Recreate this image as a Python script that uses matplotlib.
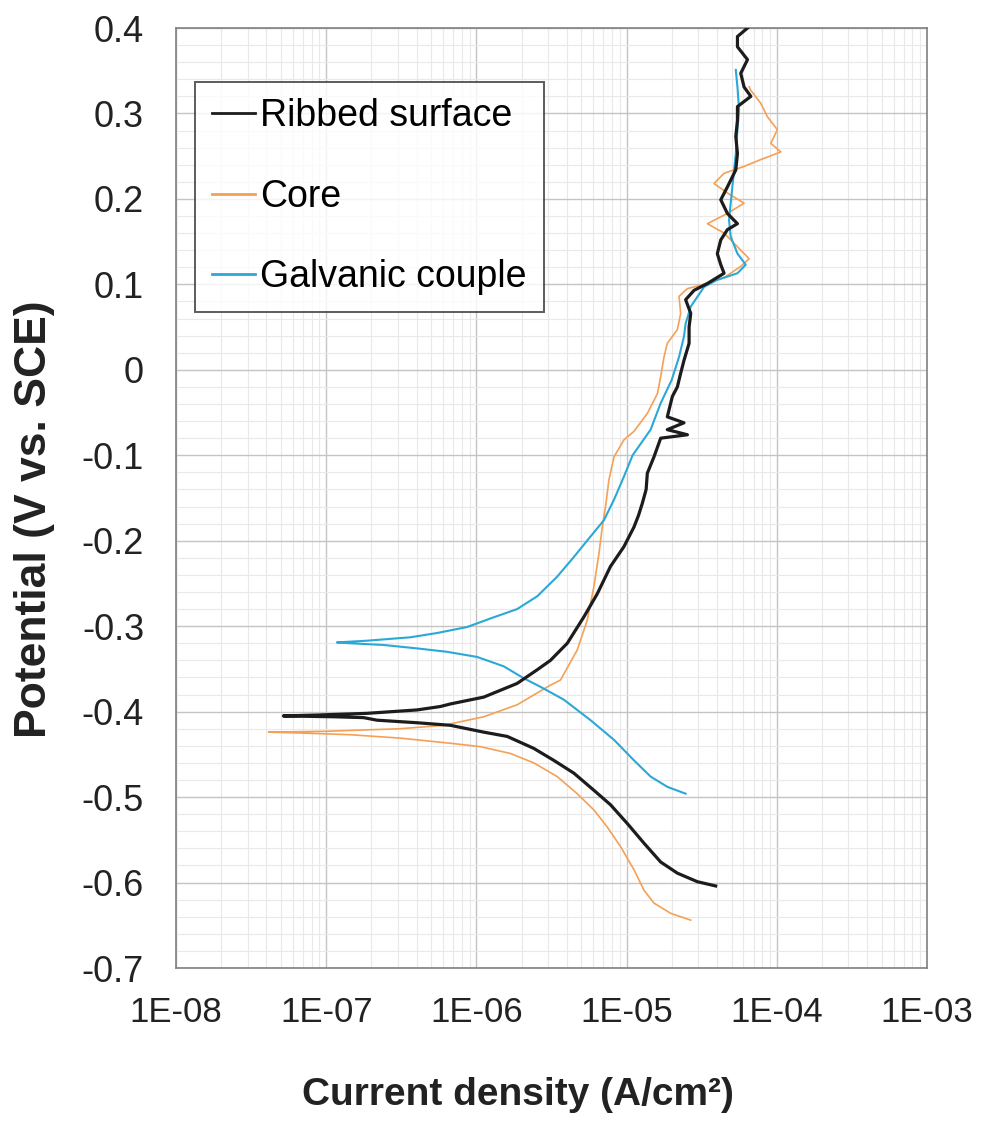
import matplotlib
matplotlib.use("Agg")
import matplotlib.pyplot as plt
import numpy as np
from matplotlib.ticker import FixedLocator, LogLocator, NullFormatter, FuncFormatter

plt.rcParams["font.family"] = ["Liberation Sans", "DejaVu Sans"]

# log10(current density) and potential (V vs SCE)
rib_logi = [-4.407, -4.529, -4.662, -4.773, -4.884, -4.995, -5.107, -5.218, -5.351, -5.485,
            -5.618, -5.795, -5.951, -6.173, -6.395, -6.662, -6.751, -6.951, -7.285,
            -7.062, -6.729, -6.395, -6.240, -6.173, -5.951, -5.729, -5.595, -5.507, -5.395,
            -5.284, -5.195, -5.107, -5.018, -4.951, -4.92, -4.895, -4.87, -4.862, -4.818, -4.773,
            -4.595, -4.729, -4.618, -4.729, -4.695, -4.662, -4.640, -4.618, -4.584, -4.584,
            -4.573, -4.607, -4.551, -4.462, -4.351, -4.373, -4.396, -4.373, -4.329, -4.262,
            -4.329, -4.373, -4.329, -4.273, -4.262, -4.273, -4.262, -4.262, -4.173, -4.218,
            -4.240, -4.195, -4.262, -4.262, -4.195]
rib_e = [-0.604, -0.599, -0.589, -0.576, -0.554, -0.531, -0.509, -0.492, -0.472, -0.457,
         -0.443, -0.429, -0.424, -0.416, -0.413, -0.410, -0.407, -0.406, -0.405,
         -0.404, -0.402, -0.398, -0.394, -0.391, -0.383, -0.367, -0.351, -0.340, -0.320,
         -0.289, -0.262, -0.230, -0.207, -0.184, -0.170, -0.156, -0.140, -0.121, -0.102, -0.080,
         -0.076, -0.070, -0.062, -0.055, -0.031, -0.020, -0.004, 0.011, 0.031, 0.050,
         0.066, 0.082, 0.093, 0.101, 0.113, 0.123, 0.136, 0.152, 0.164, 0.171,
         0.183, 0.199, 0.214, 0.234, 0.253, 0.273, 0.292, 0.308, 0.320, 0.331,
         0.347, 0.363, 0.378, 0.390, 0.400]

core_logi = [-4.573, -4.707, -4.818, -4.884, -4.951, -5.040, -5.129, -5.218, -5.329, -5.462,
             -5.618, -5.773, -5.973, -6.173, -6.507, -6.840, -7.173, -7.384,
             -7.000, -6.840, -6.507, -6.218, -5.951, -5.729, -5.507, -5.440, -5.329, -5.262,
             -5.218, -5.184, -5.162, -5.140, -5.118, -5.084, -5.018, -4.951, -4.862, -4.795,
             -4.773, -4.751, -4.729, -4.662, -4.640, -4.651, -4.595, -4.507, -4.350, -4.240,
             -4.184, -4.240, -4.351, -4.462, -4.329, -4.218, -4.329, -4.418, -4.351, -4.218,
             -4.107, -3.973, -4.040, -3.996, -4.062, -4.107, -4.173, -4.184]
core_e = [-0.644, -0.636, -0.624, -0.609, -0.585, -0.558, -0.535, -0.515, -0.496, -0.476,
          -0.460, -0.449, -0.441, -0.437, -0.431, -0.427, -0.425, -0.424,
          -0.423, -0.422, -0.420, -0.416, -0.406, -0.392, -0.369, -0.363, -0.328, -0.293,
          -0.254, -0.215, -0.184, -0.160, -0.129, -0.102, -0.082, -0.072, -0.051, -0.028,
          -0.008, 0.015, 0.031, 0.047, 0.066, 0.086, 0.095, 0.099, 0.108, 0.121,
          0.130, 0.140, 0.160, 0.171, 0.183, 0.195, 0.207, 0.218, 0.230, 0.238,
          0.246, 0.255, 0.265, 0.281, 0.296, 0.312, 0.327, 0.331]

galv_logi = [-4.607, -4.729, -4.840, -4.951, -5.084, -5.240, -5.418, -5.573, -5.684, -5.818,
             -5.995, -6.195, -6.395, -6.618, -6.840, -6.929,
             -6.729, -6.440, -6.262, -6.062, -5.907, -5.729, -5.595, -5.462, -5.351, -5.240,
             -5.151, -5.084, -5.018, -4.960, -4.840, -4.773, -4.700, -4.651, -4.618, -4.607,
             -4.573, -4.484, -4.400, -4.262, -4.207, -4.262, -4.307, -4.318, -4.307, -4.296,
             -4.284, -4.273, -4.262, -4.251, -4.262, -4.273]
galv_e = [-0.496, -0.488, -0.476, -0.457, -0.433, -0.410, -0.386, -0.371, -0.361, -0.347,
          -0.336, -0.330, -0.326, -0.322, -0.320, -0.319,
          -0.317, -0.313, -0.308, -0.301, -0.291, -0.280, -0.265, -0.242, -0.219, -0.195,
          -0.176, -0.152, -0.125, -0.100, -0.070, -0.039, -0.012, 0.015, 0.039, 0.054,
          0.074, 0.097, 0.105, 0.113, 0.123, 0.136, 0.156, 0.175, 0.195, 0.214,
          0.234, 0.253, 0.281, 0.304, 0.331, 0.351]

x_ticks = [1e-8, 1e-7, 1e-6, 1e-5, 1e-4, 1e-3]
x_tick_labels = ["1E-08", "1E-07", "1E-06", "1E-05", "1E-04", "1E-03"]
y_ticks = [-0.7, -0.6, -0.5, -0.4, -0.3, -0.2, -0.1, 0.0, 0.1, 0.2, 0.3, 0.4]


def y_fmt(v, pos):
    if abs(v) < 1e-9:
        return "0"
    return f"{v:.1f}"


fig = plt.figure(figsize=(9.83, 11.26), dpi=100)
ax = fig.add_axes([176 / 983, 1 - 968 / 1126, 751 / 983, 940 / 1126])

ax.plot(10 ** np.array(rib_logi), rib_e, color="#1c1c1c", lw=2.3, label="Ribbed surface", zorder=4)
ax.plot(10 ** np.array(core_logi), core_e, color="#f5a055", lw=1.2, label="Core", zorder=3)
ax.plot(10 ** np.array(galv_logi), galv_e, color="#2aa8d8", lw=1.5, label="Galvanic couple", zorder=3)

ax.set_xscale("log")
ax.set_xlim(1e-8, 1e-3)
ax.set_ylim(-0.7, 0.4)
ax.xaxis.set_major_locator(FixedLocator(x_ticks))
ax.set_xticklabels(x_tick_labels)
ax.xaxis.set_minor_locator(LogLocator(base=10, subs=np.arange(2, 10)))
ax.xaxis.set_minor_formatter(NullFormatter())
ax.yaxis.set_major_locator(FixedLocator(y_ticks))
ax.yaxis.set_major_formatter(FuncFormatter(y_fmt))
ax.yaxis.set_minor_locator(FixedLocator(np.arange(-0.7, 0.401, 0.02)))

ax.grid(which="major", color="#c4c4c4", lw=1.0)
ax.grid(which="minor", color="#e9e9e9", lw=0.8)
ax.set_axisbelow(True)
ax.tick_params(which="both", length=0)
ax.tick_params(axis="y", labelsize=26, pad=23, colors="#222222")
ax.tick_params(axis="x", labelsize=25, pad=20, colors="#222222")
for s in ax.spines.values():
    s.set_color("#808080")
    s.set_linewidth(1.2)

fig.text(518 / 983, 1 - 1095 / 1126, "Current density (A/cm²)", fontsize=28,
         fontweight="bold", color="#222222", ha="center", va="center")
fig.text(35 / 983, 1 - 519 / 1126, "Potential (V vs. SCE)", fontsize=32,
         fontweight="bold", color="#222222", ha="center", va="center", rotation=90)

leg = ax.legend(loc="upper left", bbox_to_anchor=(0.025, 0.943), fontsize=27, frameon=True,
                fancybox=False, edgecolor="#333333", handlelength=1.15, handletextpad=0.15,
                labelspacing=1.18, borderpad=0.45, borderaxespad=0)
leg.get_frame().set_linewidth(1.4)
for line in leg.get_lines():
    line.set_linewidth(2.0)

fig.savefig("out.png", dpi=100, facecolor="white")
